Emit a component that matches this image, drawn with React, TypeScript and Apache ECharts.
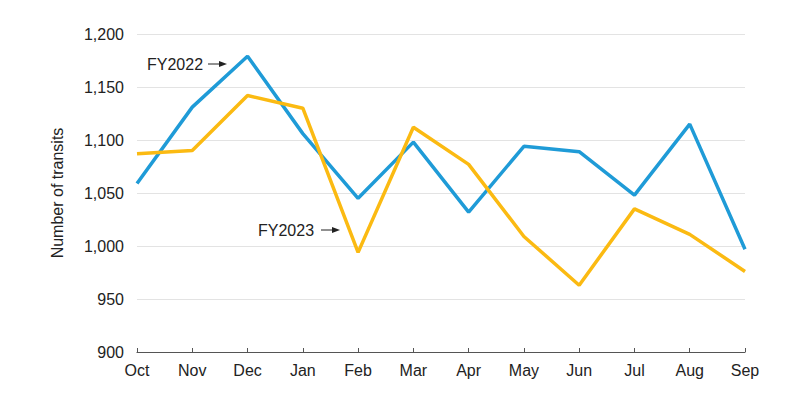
import React, { useEffect, useRef } from "react";
import * as echarts from "echarts";

const months = ["Oct", "Nov", "Dec", "Jan", "Feb", "Mar", "Apr", "May", "Jun", "Jul", "Aug", "Sep"];
const fy2022 = [1059, 1131, 1179, 1106, 1045, 1098, 1032, 1094, 1089, 1048, 1115, 997];
const fy2023 = [1087, 1090, 1142, 1130, 994, 1112, 1077, 1009, 963, 1035, 1011, 976];
const yTicks = { min: 900, max: 1200, interval: 50 };

const FONT = "'Liberation Sans', Arial, sans-serif";

function arrow(x1: number, x2: number, y: number) {
  return [
    { type: "line", shape: { x1, y1: y, x2: x2 - 6, y2: y }, style: { stroke: "#222", lineWidth: 1 } },
    {
      type: "polygon",
      shape: { points: [[x2 - 8, y - 3], [x2, y], [x2 - 8, y + 3]] },
      style: { fill: "#222" },
    },
  ];
}

export default function App() {
  const ref = useRef<HTMLDivElement>(null);
  useEffect(() => {
    if (!ref.current) return;
    const chart = echarts.init(ref.current, undefined, { renderer: "svg" });
    chart.setOption({
      animation: false,
      textStyle: { fontFamily: FONT },
      grid: { left: 129, right: 58, top: 26, bottom: 52 },
      xAxis: {
        type: "category",
        data: months,
        boundaryGap: false,
        axisLine: { lineStyle: { color: "#555", width: 1.2 } },
        axisTick: { inside: true, length: 4, lineStyle: { color: "#555" }, alignWithLabel: true },
        axisLabel: { color: "#222", fontSize: 16, margin: 10, fontFamily: FONT },
        splitLine: { show: false },
      },
      yAxis: {
        type: "value",
        min: yTicks.min,
        max: yTicks.max,
        interval: yTicks.interval,
        name: "Number of transits",
        nameLocation: "middle",
        nameGap: 72,
        nameTextStyle: { color: "#222", fontSize: 16, fontFamily: FONT },
        axisLine: { show: false },
        axisTick: { show: false },
        axisLabel: {
          color: "#222",
          fontSize: 16,
          margin: 13,
          fontFamily: FONT,
          formatter: (v: number) => v.toLocaleString("en-US"),
        },
        splitLine: { lineStyle: { color: "#e3e3e3", width: 1 } },
      },
      series: [
        {
          name: "FY2022",
          type: "line",
          data: fy2022,
          symbol: "none",
          lineStyle: { color: "#1f9bd7", width: 3.5 },
          z: 2,
        },
        {
          name: "FY2023",
          type: "line",
          data: fy2023,
          symbol: "none",
          lineStyle: { color: "#fbba12", width: 3.5 },
          z: 3,
        },
      ],
      graphic: [
        {
          type: "text",
          x: 139,
          y: 56,
          style: { text: "FY2022", fontSize: 16, fill: "#222", fontFamily: FONT, verticalAlign: "middle" },
        },
        ...arrow(200, 219, 56),
        {
          type: "text",
          x: 250,
          y: 222,
          style: { text: "FY2023", fontSize: 16, fill: "#222", fontFamily: FONT, verticalAlign: "middle" },
        },
        ...arrow(313, 332, 222),
      ],
    });
    return () => chart.dispose();
  }, []);
  return <div ref={ref} style={{ width: 795, height: 396 }} />;
}
